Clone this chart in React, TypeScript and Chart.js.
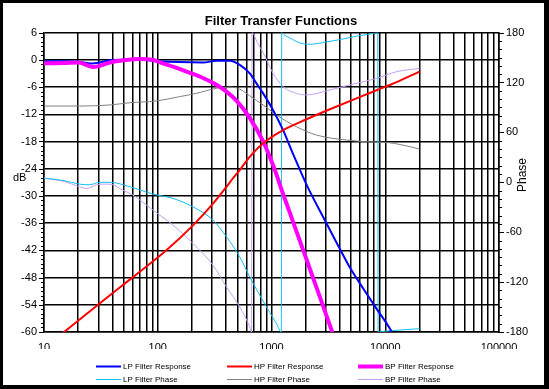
import React, { useEffect, useRef } from 'react';
import { Chart, registerables } from 'chart.js';

Chart.register(...registerables);

const TITLE = 'Filter Transfer Functions';
const X_LABELS = [10, 100, 1000, 10000, 100000];
const DB_TICKS = [-60, -54, -48, -42, -36, -30, -24, -18, -12, -6, 0, 6];
const PHASE_TICKS = [-180, -120, -60, 0, 60, 120, 180];
const DB_TITLE = 'dB';
const PHASE_TITLE = 'Phase';

// LP Filter Response (dB)
const LP_RESP_F = [10, 15, 20, 26, 32, 38, 50, 70, 100, 150, 250, 330, 430, 526, 644, 738, 844, 1033, 1265, 1549, 1775, 2032, 3048, 3993, 4887, 6400, 8398, 11000, 12500];
const LP_RESP_DB = [-0.3, -0.3, -0.4, -0.8, -0.5, -0.1, 0, 0, -0.3, -0.5, -0.6, -0.2, -0.2, -1.1, -3.0, -5.2, -7.4, -11.1, -15.5, -20.8, -24.2, -27.5, -36.1, -41.7, -45.8, -50.4, -54.9, -59.3, -62];

// HP Filter Response (dB)
const HP_RESP_F = [10, 15.7, 30.8, 60.5, 119, 204, 306, 402, 459, 526, 644, 844, 1265, 2032, 3260, 6400, 8398, 12600, 20000];
const HP_RESP_DB = [-63.5, -59.6, -53.7, -47.9, -42.0, -36.5, -31.7, -28.0, -26.1, -24.3, -21.4, -18.4, -15.5, -13.1, -10.9, -7.9, -6.7, -4.9, -2.6];

// BP Filter Response (dB)
const BP_RESP_F = [10, 15, 20, 24, 27, 31, 38, 50, 70, 90, 111, 140, 179, 250, 328, 402, 492, 644, 844, 1107, 1183, 1449, 1775, 2323, 2844, 3373, 3700];
const BP_RESP_DB = [-0.75, -0.7, -0.6, -1.2, -1.6, -1.3, -0.6, -0.1, 0.2, 0, -0.8, -1.6, -2.6, -4.0, -5.5, -7.0, -9.0, -12.8, -18.0, -25.3, -27.5, -33.7, -39.9, -48.1, -54.3, -59.6, -62.5];

// LP Filter Phase (deg)
const LP_PH_F = [10, 15, 20.5, 25, 31, 38, 57, 91, 136, 204, 306, 402, 526, 644, 844, 1107, 1220, 1230, 1300, 1450, 1775, 2170, 3050, 4000, 5600, 7500, 8600, 8660, 10000, 14000, 20000];
const LP_PH = [5, 2, -2.2, -3, 0, 0, -5.4, -14.2, -19.4, -29.5, -45.5, -65.6, -89.7, -113.8, -143, -170, -180, 180, 177, 173.6, 167.6, 166, 168.8, 171.6, 175.7, 178.5, 180, -180, -179, -177.5, -176];

// HP Filter Phase (deg)
const HP_PH_F = [10, 20.5, 38, 57, 97, 156, 219, 328, 430, 526, 644, 844, 1107, 1660, 2489, 4570, 6855, 10280, 14000, 20000];
const HP_PH = [91.7, 91.7, 93, 95.7, 97.8, 103, 107, 113, 114.5, 112, 104, 93, 81, 66.8, 56.8, 50.8, 48.8, 48, 45, 40];

// BP Filter Phase (deg)
const BP_PH_F = [10, 15, 20.5, 23.6, 31, 38, 49, 60.5, 91, 136, 204, 306, 402, 526, 644, 667, 675, 750, 844, 1033, 1265, 1660, 2032, 3260, 4887, 8398, 12600, 20000];
const BP_PH = [5, 1, -5.4, -7.4, -2.2, -2.2, -9.4, -15.4, -33.5, -51.5, -73.6, -99.7, -125.8, -149.9, -174, -180, 180, 168, 156, 131, 115, 107, 105, 111, 117, 125, 133, 137];

const FONT = '"Liberation Sans", Arial, Helvetica, sans-serif';

const X_GRID: number[] = [];
for (let i = 0; i < X_LABELS.length - 1; i++) {
  for (let m = 1; m <= 9; m++) X_GRID.push(X_LABELS[i] * m);
}
X_GRID.push(X_LABELS[X_LABELS.length - 1]);

const pts = (f: number[], v: number[]) => f.map((x, i) => ({ x, y: v[i] }));

const framePlugin = {
  id: 'frame',
  beforeDraw(chart: any) {
    const ctx = chart.ctx;
    ctx.save();
    ctx.fillStyle = '#ffffff';
    ctx.fillRect(0, 0, chart.width, chart.height);
    ctx.restore();
  },
  afterDraw(chart: any) {
    const ctx = chart.ctx;
    const W = chart.width;
    const H = chart.height;
    const { left, right } = chart.chartArea;
    const y = chart.scales.y;
    const y1 = chart.scales.y1;
    ctx.save();
    // minor / major tick marks
    ctx.strokeStyle = '#000';
    ctx.lineWidth = 1;
    ctx.beginPath();
    const dMin = DB_TICKS[0];
    const dMax = DB_TICKS[DB_TICKS.length - 1];
    for (let v = dMin; v <= dMax; v++) {
      const p = Math.round(y.getPixelForValue(v)) + 0.5;
      const len = v % 6 === 0 ? 5 : 3;
      ctx.moveTo(left - len, p);
      ctx.lineTo(left, p);
    }
    const pMin = PHASE_TICKS[0];
    const pMax = PHASE_TICKS[PHASE_TICKS.length - 1];
    for (let v = pMin; v <= pMax; v += 10) {
      const p = Math.round(y1.getPixelForValue(v)) + 0.5;
      const len = v % 60 === 0 ? 5 : 3;
      ctx.moveTo(right, p);
      ctx.lineTo(right + len, p);
    }
    ctx.stroke();

    // axis titles
    ctx.fillStyle = '#000';
    ctx.font = '11px ' + FONT;
    ctx.textAlign = 'left';
    ctx.textBaseline = 'middle';
    ctx.fillText(DB_TITLE, 13, 178);
    ctx.save();
    ctx.translate(523, 175);
    ctx.rotate(-Math.PI / 2);
    ctx.font = '12px ' + FONT;
    ctx.textAlign = 'center';
    ctx.fillText(PHASE_TITLE, 0, 0);
    ctx.restore();

    // legend
    const cols = [96, 227, 358];
    const rows = [366.5, 379.5];
    ctx.font = '8px ' + FONT;
    ctx.textAlign = 'left';
    ctx.textBaseline = 'middle';
    chart.data.datasets.forEach((ds: any, i: number) => {
      const cx = cols[i % 3];
      const cy = rows[Math.floor(i / 3)];
      ctx.strokeStyle = ds.borderColor;
      ctx.lineWidth = ds.borderWidth;
      ctx.beginPath();
      ctx.moveTo(cx, cy);
      ctx.lineTo(cx + 25, cy);
      ctx.stroke();
      ctx.fillStyle = '#000';
      ctx.fillText(ds.label, cx + 27, cy);
    });

    // outer frame
    ctx.fillStyle = '#000';
    ctx.fillRect(0, 0, W, 3);
    ctx.fillRect(0, 0, 3, H);
    ctx.fillRect(W - 5, 0, 5, H);
    ctx.fillRect(0, H - 4, W, 4);
    ctx.restore();
  },
};

export default function App() {
  const ref = useRef<HTMLCanvasElement>(null);
  useEffect(() => {
    const canvas = ref.current;
    if (!canvas) return;
    const chart = new Chart(canvas, {
      type: 'line',
      data: {
        datasets: [
          { label: 'LP Filter Response', data: pts(LP_RESP_F, LP_RESP_DB), borderColor: '#0000FF', borderWidth: 2, yAxisID: 'y', order: 2 },
          { label: 'HP Filter Response', data: pts(HP_RESP_F, HP_RESP_DB), borderColor: '#FF0000', borderWidth: 2, yAxisID: 'y', order: 0 },
          { label: 'BP Filter Response', data: pts(BP_RESP_F, BP_RESP_DB), borderColor: '#FF00FF', borderWidth: 4, yAxisID: 'y', order: 1 },
          { label: 'LP Filter Phase', data: pts(LP_PH_F, LP_PH), borderColor: '#12BEF0', borderWidth: 1, yAxisID: 'y1', order: 3 },
          { label: 'HP Filter Phase', data: pts(HP_PH_F, HP_PH), borderColor: '#808080', borderWidth: 1, yAxisID: 'y1', order: 4 },
          { label: 'BP Filter Phase', data: pts(BP_PH_F, BP_PH), borderColor: '#C4A0F4', borderWidth: 1, yAxisID: 'y1', order: 5 },
        ] as any,
      },
      options: {
        responsive: false,
        animation: false,
        devicePixelRatio: 1,
        layout: { padding: { left: 13, right: 0, top: 0, bottom: 40 } },
        elements: {
          point: { radius: 0, hoverRadius: 0 },
          line: { tension: 0, cubicInterpolationMode: 'monotone', fill: false },
        },
        plugins: {
          legend: { display: false },
          tooltip: { enabled: false },
          title: {
            display: true,
            text: TITLE,
            color: '#000',
            font: { family: FONT, size: 13, weight: 'bold' },
            padding: { top: 14, bottom: 3 },
          },
        },
        scales: {
          x: {
            type: 'logarithmic',
            min: X_LABELS[0],
            max: X_LABELS[X_LABELS.length - 1],
            afterBuildTicks: (s: any) => {
              s.ticks = X_GRID.map((v) => ({ value: v }));
            },
            afterFit: (s: any) => {
              s.height = 17;
            },
            grid: { color: '#000', lineWidth: 1.5, drawTicks: false },
            border: { color: '#000', width: 1.5 },
            ticks: {
              autoSkip: false,
              maxRotation: 0,
              minRotation: 0,
              padding: 9,
              color: '#000',
              font: { family: FONT, size: 11 },
              callback: (v: any) => (X_LABELS.includes(Number(v)) ? String(v) : ''),
            },
          },
          y: {
            type: 'linear',
            position: 'left',
            min: DB_TICKS[0],
            max: DB_TICKS[DB_TICKS.length - 1],
            afterBuildTicks: (s: any) => {
              s.ticks = DB_TICKS.map((v) => ({ value: v }));
            },
            afterFit: (s: any) => {
              s.width = 31;
            },
            grid: { color: '#000', lineWidth: 1.5, drawTicks: false },
            border: { color: '#000', width: 1.5 },
            ticks: { autoSkip: false, padding: 7, color: '#000', font: { family: FONT, size: 11 } },
          },
          y1: {
            type: 'linear',
            position: 'right',
            min: PHASE_TICKS[0],
            max: PHASE_TICKS[PHASE_TICKS.length - 1],
            afterBuildTicks: (s: any) => {
              s.ticks = PHASE_TICKS.map((v) => ({ value: v }));
            },
            afterFit: (s: any) => {
              s.width = 50;
            },
            grid: { drawOnChartArea: false, drawTicks: false },
            border: { color: '#000', width: 1.5 },
            ticks: { autoSkip: false, padding: 7, color: '#000', font: { family: FONT, size: 11 } },
          },
        },
      } as any,
      plugins: [framePlugin],
    });
    return () => chart.destroy();
  }, []);
  return (
    <div style={{ position: 'absolute', left: 0, top: 0, width: 549, height: 389 }}>
      <canvas ref={ref} width={549} height={389} style={{ display: 'block', width: 549, height: 389 }} />
    </div>
  );
}
